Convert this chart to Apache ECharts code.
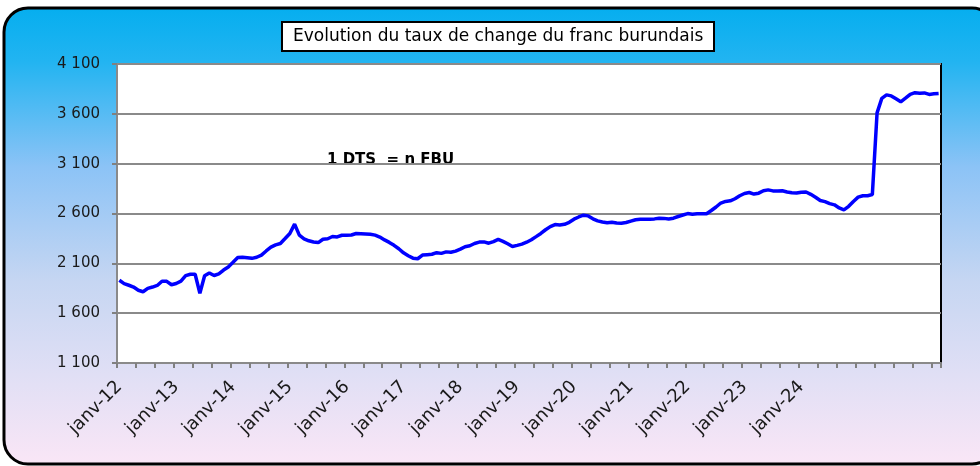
<!DOCTYPE html>
<html>
<head>
<meta charset="utf-8">
<script src="https://cdn.jsdelivr.net/npm/echarts/dist/echarts.min.js"></script>
<style>
  html, body { margin: 0; padding: 0; background: #fff; }
  #chart { width: 980px; height: 466px; }
</style>
</head>
<body>
<div id="chart"></div>
<script>
// mois affichés sous l'axe (janvier de chaque année)
const yearLabels = ['janv-12', 'janv-13', 'janv-14', 'janv-15', 'janv-16', 'janv-17', 'janv-18',
  'janv-19', 'janv-20', 'janv-21', 'janv-22', 'janv-23', 'janv-24'];
const monthNames = ['janv', 'févr', 'mars', 'avr', 'mai', 'juin', 'juil', 'août', 'sept', 'oct', 'nov', 'déc'];

// 1 DTS = n FBU, un point par mois depuis janv-12
const rate = [
  1930, 1897, 1880, 1862, 1830, 1815, 1849, 1862, 1878, 1921,
  1919, 1885, 1898, 1921, 1976, 1990, 1990, 1800, 1975, 2003,
  1978, 1995, 2033, 2064, 2110, 2158, 2161, 2156, 2150, 2161,
  2183, 2224, 2262, 2285, 2299, 2349, 2400, 2493, 2383, 2346,
  2326, 2314, 2308, 2342, 2347, 2369, 2365, 2382, 2381, 2384,
  2399, 2397, 2394, 2391, 2383, 2364, 2335, 2310, 2281, 2246,
  2205, 2176, 2152, 2146, 2183, 2187, 2191, 2207, 2200, 2215,
  2211, 2223, 2243, 2267, 2276, 2299, 2313, 2315, 2302, 2318,
  2340, 2320, 2296, 2269, 2280, 2293, 2312, 2337, 2368, 2400,
  2437, 2468, 2489, 2485, 2492, 2512, 2543, 2565, 2583, 2576,
  2547, 2526, 2514, 2507, 2513, 2504, 2503, 2510, 2524, 2537,
  2543, 2543, 2543, 2546, 2553, 2551, 2545, 2553, 2570, 2585,
  2599, 2592, 2597, 2598, 2597, 2630, 2665, 2705, 2721, 2727,
  2748, 2778, 2801, 2811, 2795, 2804, 2829, 2837, 2827, 2826,
  2828, 2816, 2808, 2805, 2814, 2816, 2792, 2763, 2730, 2719,
  2699, 2687, 2656, 2637, 2672, 2721, 2764, 2778, 2778, 2790,
  3610, 3755, 3790, 3780, 3751, 3721, 3757, 3796, 3812, 3806,
  3810, 3795, 3801, 3805
];

const yMin = 1100;
const yMax = 4100;
const yStep = 500;

const categories = rate.map(function (v, i) {
  return monthNames[i % 12] + '-' + (12 + Math.floor(i / 12));
});

function fmt(v) {
  return String(v).replace(/\B(?=(\d{3})+(?!\d))/g, ' ');
}

const chart = echarts.init(document.getElementById('chart'), null, { renderer: 'canvas' });

chart.setOption({
  animation: false,
  textStyle: { fontFamily: 'DejaVu Sans' },
  title: {
    text: 'Evolution du taux de change du franc burundais',
    left: 282,
    top: 22,
    padding: [6, 11, 6, 11],
    backgroundColor: '#fff',
    borderColor: '#000',
    borderWidth: 2,
    textStyle: {
      fontFamily: 'DejaVu Sans',
      fontSize: 17,
      fontWeight: 'normal',
      color: '#000'
    }
  },
  graphic: [
    {
      type: 'rect',
      z: -10,
      silent: true,
      shape: { x: 4, y: 8, width: 992, height: 456, r: 24 },
      style: {
        fill: new echarts.graphic.LinearGradient(0, 0, 0, 1, [
          { offset: 0, color: '#05AEEF' },
          { offset: 0.12, color: '#22B4F1' },
          { offset: 0.35, color: '#8CC3F6' },
          { offset: 0.6, color: '#C6D6F2' },
          { offset: 0.8, color: '#E0DFF5' },
          { offset: 1, color: '#FAE6F6' }
        ]),
        stroke: '#000',
        lineWidth: 3
      }
    },
    {
      type: 'text',
      silent: true,
      left: 327,
      top: 153,
      style: {
        text: '1 DTS  = n FBU',
        fontFamily: 'DejaVu Sans',
        fontSize: 15,
        fontWeight: 'bold',
        fill: '#000'
      }
    }
  ],
  grid: {
    left: 117,
    right: 39,
    top: 64,
    bottom: 103,
    show: true,
    backgroundColor: '#fff',
    borderColor: '#000',
    borderWidth: 2
  },
  xAxis: {
    type: 'category',
    data: categories,
    boundaryGap: true,
    axisLine: { show: true, lineStyle: { color: '#8a8a8a', width: 2 } },
    axisTick: {
      show: true,
      interval: 3,
      length: 5,
      lineStyle: { color: '#808080', width: 2 }
    },
    axisLabel: {
      // janvier seulement, jusqu'à janv-24
      interval: function (i, name) {
        return yearLabels.indexOf(name) >= 0;
      },
      rotate: 45,
      margin: 21,
      fontFamily: 'DejaVu Sans',
      fontSize: 18,
      color: '#1a1a1a'
    },
    splitLine: { show: false }
  },
  yAxis: {
    type: 'value',
    min: yMin,
    max: yMax,
    interval: yStep,
    axisLine: { show: true, lineStyle: { color: '#8a8a8a', width: 2 } },
    axisTick: { show: true, length: 5, lineStyle: { color: '#808080', width: 2 } },
    axisLabel: {
      formatter: fmt,
      margin: 17,
      fontFamily: 'DejaVu Sans',
      fontSize: 15,
      color: '#1a1a1a'
    },
    splitLine: { show: true, lineStyle: { color: '#8a8a8a', width: 2 } }
  },
  series: [{
    name: 'FBU',
    type: 'line',
    data: rate,
    symbol: 'none',
    smooth: false,
    lineStyle: { color: '#0000FF', width: 3.5 }
  }]
});
</script>
</body>
</html>
